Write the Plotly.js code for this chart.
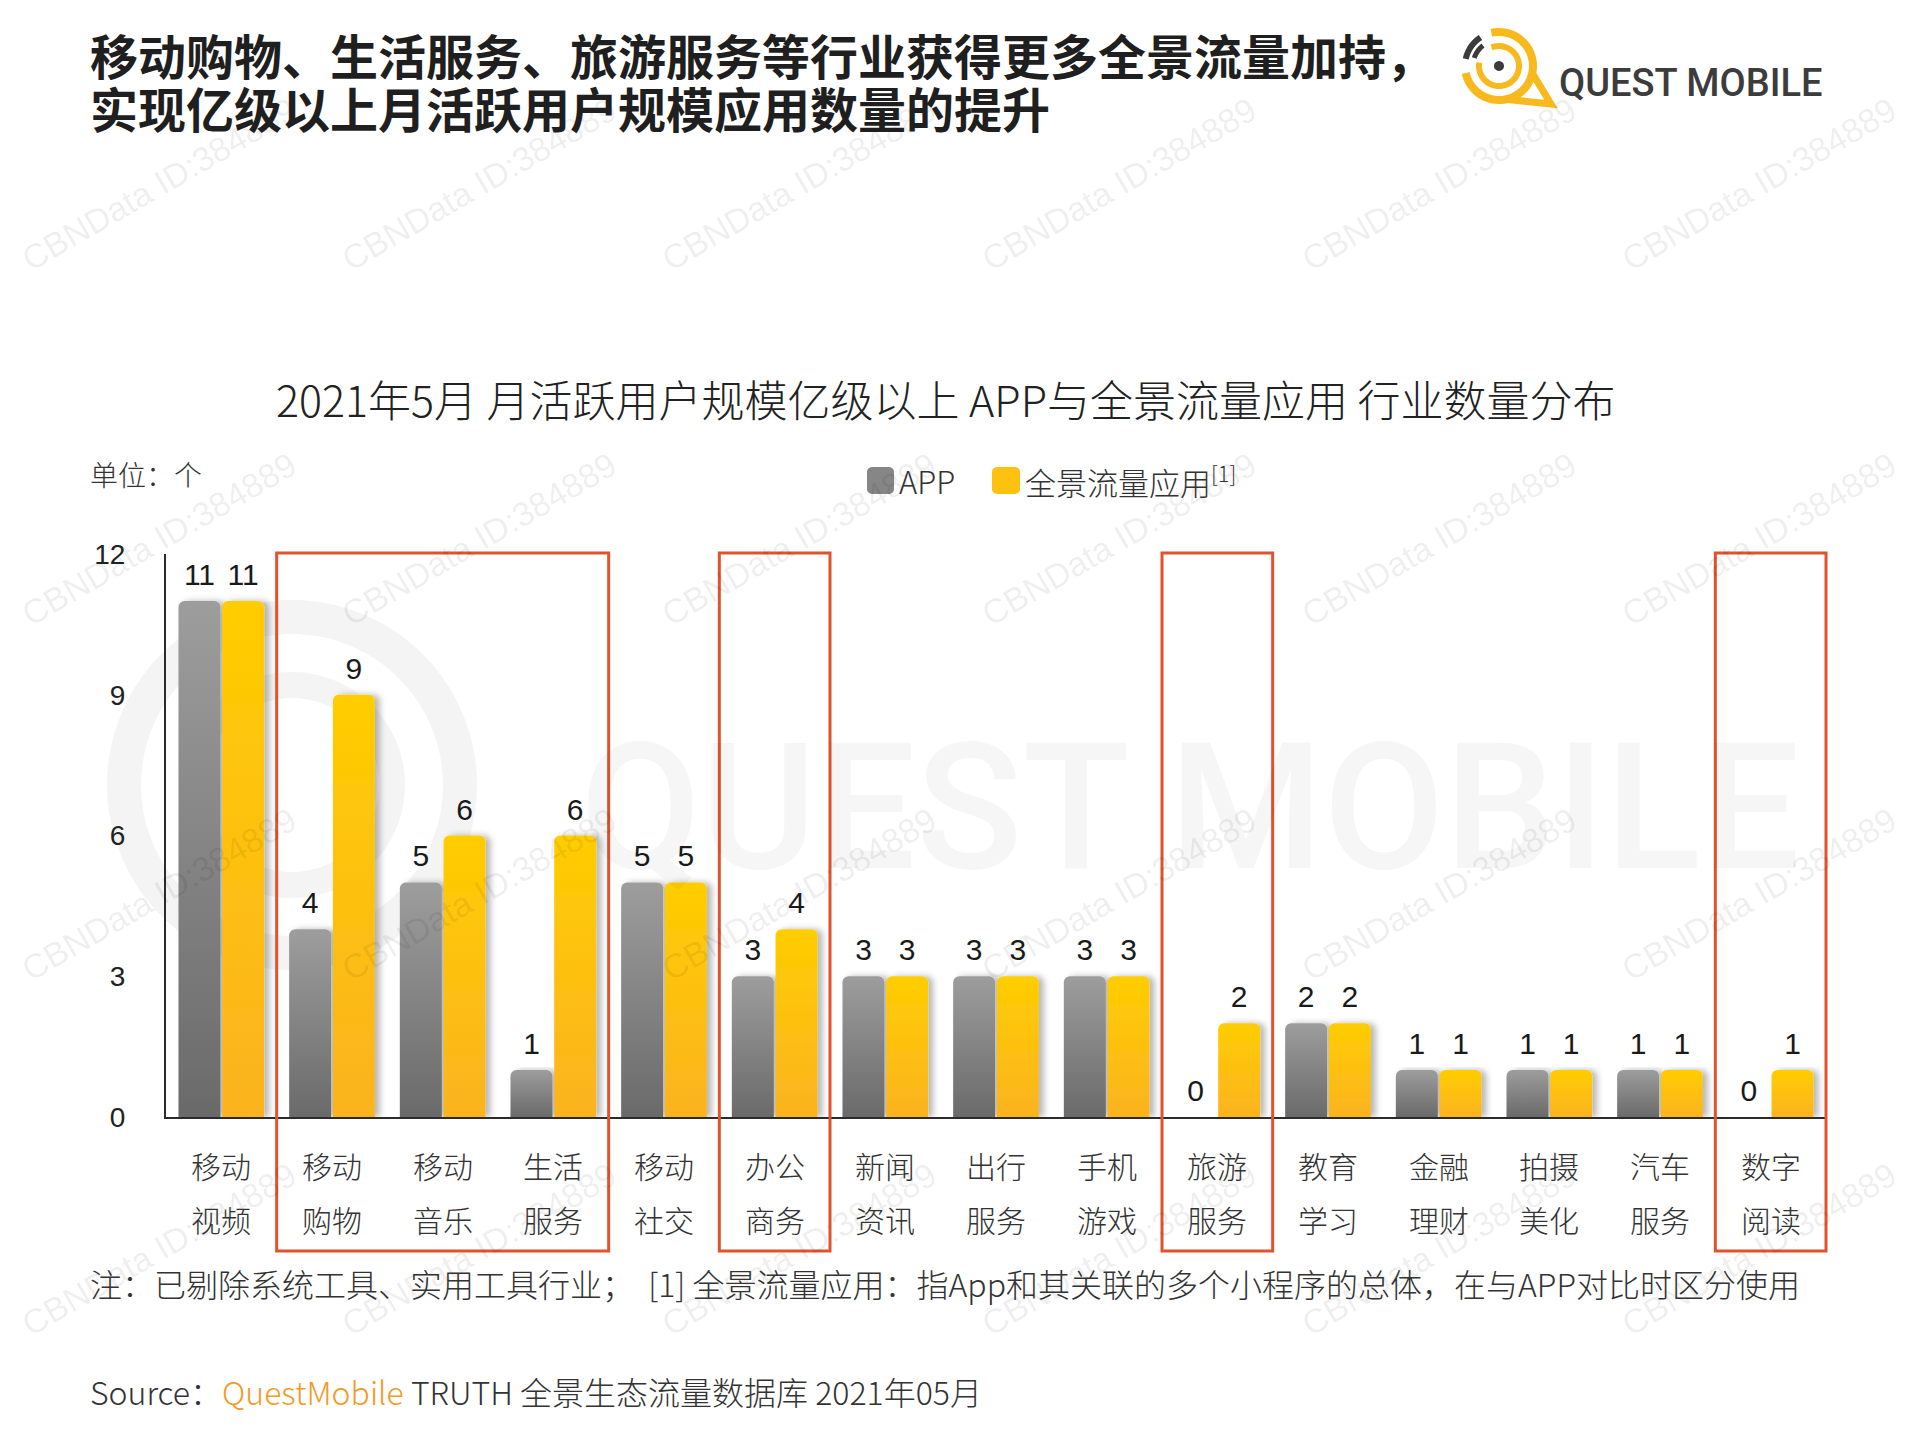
<!DOCTYPE html>
<html>
<head>
<meta charset="utf-8">
<script src="https://cdn.plot.ly/plotly-3.0.1.min.js"></script>
<style>
html,body{margin:0;padding:0;background:#ffffff;}
#chart{width:1920px;height:1440px;}
</style>
</head>
<body>
<div id="chart"></div>
<script>
// ---------------- data ----------------
const categories = ['移动视频','移动购物','移动音乐','生活服务','移动社交','办公商务','新闻资讯','出行服务','手机游戏','旅游服务','教育学习','金融理财','拍摄美化','汽车服务','数字阅读'];
const appCounts = [11,4,5,1,5,3,3,3,3,0,2,1,1,1,0];
const panoramaCounts = [11,9,6,6,5,4,3,3,3,2,2,1,1,1,1];
const seriesNames = ['APP','全景流量应用'];
const yTicks = [0,3,6,9,12];
const highlightGroups = [[1,3],[5,5],[9,9],[14,14]];
const headlineLines = ['移动购物、生活服务、旅游服务等行业获得更多全景流量加持，','实现亿级以上月活跃用户规模应用数量的提升'];
const chartTitle = '2021年5月 月活跃用户规模亿级以上 APP与全景流量应用 行业数量分布';
const unitText = '单位：个';
const legendSup = '[1]';
const noteText = '注：已剔除系统工具、实用工具行业；  [1] 全景流量应用：指App和其关联的多个小程序的总体，在与APP对比时区分使用';
const sourceParts = ['Source：','QuestMobile',' TRUTH 全景生态流量数据库 2021年05月'];
const logoText = 'QUEST MOBILE';
const watermarkText = 'CBNData ID:384889';

// ---------------- geometry ----------------
const W = 1920, H = 1440;
const M = {l:166, r:94, t:554, b:323};
const PW = W - M.l - M.r, PH = H - M.t - M.b;
const px = x => (x - M.l) / PW;
const py = y => (H - M.b - y) / PH;

const CJK = '"Noto Sans CJK SC", "Noto Sans", sans-serif';
const NUM = '"Liberation Sans", Arial, sans-serif';
const GRAY = '#868686', YELLOW = '#fdc20f', RED = '#e2532d';
const LOGO_Y = '#f8b91c', LOGO_D = '#3c3c3c';

function pathFromPts(pts, close){
  let s = pts.map((p,i)=>(i?'L':'M')+px(p[0]).toFixed(5)+','+py(p[1]).toFixed(5)).join(' ');
  return close ? s+' Z' : s;
}
function arcPts(cx, cy, r, a0, a1, n){
  n = n || 48; const pts = [];
  for(let i=0;i<=n;i++){ const a=(a0+(a1-a0)*i/n)*Math.PI/180; pts.push([cx+r*Math.cos(a), cy-r*Math.sin(a)]); }
  return pts;
}
function roundRectPts(x0,y0,x1,y1,r){
  const pts=[];
  const c=[[x1-r,y0+r,90,0],[x1-r,y1-r,0,-90],[x0+r,y1-r,-90,-180],[x0+r,y0+r,180,90]];
  c.forEach(k=>{ arcPts(k[0],k[1],r,k[2],k[3],6).forEach(p=>pts.push(p)); });
  return pts;
}

// ---------------- traces ----------------
const traces = [
  {type:'bar', name:seriesNames[0], x:categories, y:appCounts, marker:{color:GRAY},
   text:appCounts.map(String), textposition:'outside', cliponaxis:false, constraintext:'none',
   textfont:{family:NUM, size:30, color:'#1a1a1a'}, hoverinfo:'skip'},
  {type:'bar', name:seriesNames[1], x:categories, y:panoramaCounts, marker:{color:YELLOW},
   text:panoramaCounts.map(String), textposition:'outside', cliponaxis:false, constraintext:'none',
   textfont:{family:NUM, size:30, color:'#1a1a1a'}, hoverinfo:'skip'}
];

// ---------------- shapes ----------------
const shapes = [];
// faint big background watermark rings
shapes.push({type:'path', xref:'paper', yref:'paper', layer:'below', path:pathFromPts(arcPts(292,785,168,0,360,90),true), line:{color:'#f4f4f4', width:34}, fillcolor:'rgba(0,0,0,0)'});
shapes.push({type:'path', xref:'paper', yref:'paper', layer:'below', path:pathFromPts(arcPts(292,785,100,0,360,90),true), line:{color:'#f4f4f4', width:26}, fillcolor:'rgba(0,0,0,0)'});

// highlight boxes
highlightGroups.forEach(g=>{
  shapes.push({type:'rect', xref:'paper', yref:'paper', x0:g[0]/categories.length, x1:(g[1]+1)/categories.length,
    y0:py(1251), y1:py(553), line:{color:RED, width:3}, fillcolor:'rgba(0,0,0,0)', layer:'above'});
});

// legend swatches
shapes.push({type:'path', xref:'paper', yref:'paper', path:pathFromPts(roundRectPts(867,467,894,494,5),true), fillcolor:GRAY, line:{width:0}});
shapes.push({type:'path', xref:'paper', yref:'paper', path:pathFromPts(roundRectPts(992,467,1020,494,5),true), fillcolor:YELLOW, line:{width:0}});

// logo
const LC = [1499, 66];
shapes.push({type:'path', xref:'paper', yref:'paper', path:pathFromPts(arcPts(LC[0],LC[1],34,103,-168,60),false), line:{color:LOGO_Y, width:8}, fillcolor:'rgba(0,0,0,0)'});
{
  const a=arcPts(LC[0],LC[1],34,-12,-12,1)[0], b=arcPts(LC[0],LC[1],34,-78,-78,1)[0];
  shapes.push({type:'path', xref:'paper', yref:'paper', path:pathFromPts([a,[1551,104],b],false), line:{color:LOGO_Y, width:7}, fillcolor:'rgba(0,0,0,0)'});
}
shapes.push({type:'path', xref:'paper', yref:'paper', path:pathFromPts(arcPts(LC[0],LC[1],20,112,-190,60),false), line:{color:LOGO_Y, width:6}, fillcolor:'rgba(0,0,0,0)'});
shapes.push({type:'path', xref:'paper', yref:'paper', path:pathFromPts(arcPts(LC[0],LC[1],34,123,168,16),false), line:{color:LOGO_D, width:6}, fillcolor:'rgba(0,0,0,0)'});
shapes.push({type:'path', xref:'paper', yref:'paper', path:pathFromPts(arcPts(LC[0],LC[1],26,128,162,12),false), line:{color:LOGO_D, width:5}, fillcolor:'rgba(0,0,0,0)'});
shapes.push({type:'path', xref:'paper', yref:'paper', path:pathFromPts(arcPts(LC[0],LC[1],5,0,360,24),true), fillcolor:LOGO_D, line:{width:0}});

// ---------------- annotations ----------------
const ann = [];
// watermarks
for(let j=0;j<4;j++){
  for(let k=0;k<6;k++){
    ann.push({xref:'paper', yref:'paper', x:px(159+320*k), y:py(184+355*j), xanchor:'center', yanchor:'middle',
      text:watermarkText, showarrow:false, textangle:-30, font:{family:NUM, size:34, color:'rgba(0,0,0,0.08)'}});
  }
}
ann.push({xref:'paper', yref:'paper', x:px(1190), y:py(808), xanchor:'center', yanchor:'middle', text:logoText, showarrow:false,
  font:{family:'Roboto, sans-serif', size:176, weight:500, color:'rgba(0,0,0,0.035)'}});

headlineLines.forEach((t,i)=>{
  ann.push({xref:'paper', yref:'paper', x:px(88), xanchor:'left', y:py(54+53*i), yanchor:'middle', text:t, showarrow:false,
    font:{family:CJK, size:48, weight:700, color:'#1f1f1f'}});
});
ann.push({xref:'paper', yref:'paper', x:px(1557), xanchor:'left', y:py(83), yanchor:'middle', text:logoText, showarrow:false,
  font:{family:'Roboto, "Open Sans", sans-serif', size:38, weight:500, color:'#3c3c3c'}});
ann.push({xref:'paper', yref:'paper', x:px(945), xanchor:'center', y:py(398), yanchor:'middle', text:chartTitle, showarrow:false,
  font:{family:CJK, size:43, weight:300, color:'#222222'}});
ann.push({xref:'paper', yref:'paper', x:px(88), xanchor:'left', y:py(474), yanchor:'middle', text:unitText, showarrow:false,
  font:{family:CJK, size:28, weight:300, color:'#333333'}});
ann.push({xref:'paper', yref:'paper', x:px(897), xanchor:'left', y:py(481), yanchor:'middle', text:seriesNames[0], showarrow:false,
  font:{family:CJK, size:31, weight:300, color:'#333333'}});
ann.push({xref:'paper', yref:'paper', x:px(1023), xanchor:'left', y:py(481), yanchor:'middle', text:seriesNames[1]+'<sup>'+legendSup+'</sup>', showarrow:false,
  font:{family:CJK, size:31, weight:300, color:'#333333'}});
categories.forEach(c=>{
  ann.push({xref:'x', yref:'paper', x:c, xanchor:'center', y:py(1165), yanchor:'middle', text:c.slice(0,2), showarrow:false,
    font:{family:CJK, size:30, weight:300, color:'#333333'}});
  ann.push({xref:'x', yref:'paper', x:c, xanchor:'center', y:py(1219), yanchor:'middle', text:c.slice(2), showarrow:false,
    font:{family:CJK, size:30, weight:300, color:'#333333'}});
});
ann.push({xref:'paper', yref:'paper', x:px(88), xanchor:'left', y:py(1283), yanchor:'middle', text:noteText, showarrow:false,
  font:{family:CJK, size:32, weight:300, color:'#333333'}});
ann.push({xref:'paper', yref:'paper', x:px(88), xanchor:'left', y:py(1391), yanchor:'middle',
  text:sourceParts[0]+'<span style="color:#f39a26">'+sourceParts[1]+'</span>'+sourceParts[2], showarrow:false,
  font:{family:CJK, size:32, weight:300, color:'#333333'}});

// ---------------- layout ----------------
const layout = {
  width:W, height:H, margin:M, paper_bgcolor:'#ffffff', plot_bgcolor:'rgba(0,0,0,0)',
  showlegend:false, barmode:'group', bargap:0.21, bargroupgap:0.04, barcornerradius:6,
  xaxis:{type:'category', categoryorder:'array', categoryarray:categories, range:[-0.5,14.5],
    showticklabels:false, ticks:'', showline:true, linecolor:'#2b2b2b', linewidth:2, showgrid:false, zeroline:false, fixedrange:true},
  yaxis:{range:[0,12], tickvals:yTicks, ticktext:yTicks.map(String), ticks:'', ticklabelstandoff:33,
    showline:true, linecolor:'#2b2b2b', linewidth:2, showgrid:false, zeroline:false, fixedrange:true,
    tickfont:{family:NUM, size:28, color:'#222222'}},
  shapes:shapes, annotations:ann
};

Plotly.newPlot('chart', traces, layout, {staticPlot:true, displayModeBar:false}).then(gd=>{
  const svg = gd.querySelector('.main-svg');
  const NS = 'http://www.w3.org/2000/svg';
  let defs = svg.querySelector('defs');
  if(!defs){ defs = document.createElementNS(NS,'defs'); svg.insertBefore(defs, svg.firstChild); }
  const grads = [['#9d9d9d','#6a6a6a'],['#ffcd00','#fbb320']];
  grads.forEach((g,i)=>{
    const lg = document.createElementNS(NS,'linearGradient');
    lg.setAttribute('id','barGrad'+i); lg.setAttribute('x1','0'); lg.setAttribute('y1','0'); lg.setAttribute('x2','0'); lg.setAttribute('y2','1');
    [[0,g[0]],[1,g[1]]].forEach(s=>{ const st=document.createElementNS(NS,'stop'); st.setAttribute('offset',s[0]); st.setAttribute('stop-color',s[1]); lg.appendChild(st); });
    defs.appendChild(lg);
  });
  const f = document.createElementNS(NS,'filter');
  f.setAttribute('id','barShadow'); f.setAttribute('x','-0.2'); f.setAttribute('y','-0.05'); f.setAttribute('width','1.7'); f.setAttribute('height','1.1');
  const ds = document.createElementNS(NS,'feDropShadow');
  ds.setAttribute('dx','5'); ds.setAttribute('dy','0'); ds.setAttribute('stdDeviation','3'); ds.setAttribute('flood-color','#000'); ds.setAttribute('flood-opacity','0.28');
  f.appendChild(ds); defs.appendChild(f);
  gd.querySelectorAll('.barlayer .trace').forEach((t,i)=>{
    t.querySelectorAll('.point path').forEach(p=>{ p.style.fill='url(#barGrad'+i+')'; p.setAttribute('filter','url(#barShadow)'); });
    t.querySelectorAll('.point text').forEach(tx=>{
      const tr = tx.getAttribute('transform') || '';
      tx.setAttribute('transform', 'translate(0,-7) ' + tr);
    });
  });
});
</script>
</body>
</html>
